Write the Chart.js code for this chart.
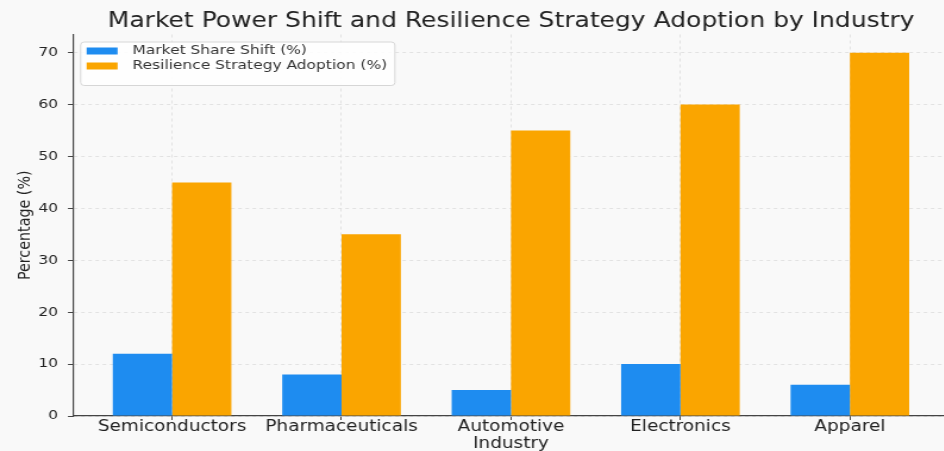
<!DOCTYPE html>
<html lang="en">
<head>
  <meta charset="UTF-8">
  <title>Market Power Shift and Resilience Strategy Adoption</title>
  <script src="https://cdn.jsdelivr.net/npm/chart.js"></script>
  <style>
    body {
      margin: 0;
      background-color: #f9f9f9;
      overflow: hidden;
    }

    /* the chart is drawn narrower and widened to the page */
    #shiftChart {
      display: block;
      transform: scaleX(1.19);
      transform-origin: 0 0;
    }
  </style>
</head>
<body>

<canvas id="shiftChart" width="859" height="451"></canvas>

<script>
  // Industries and the two measured series
  const industries = ['Semiconductors', 'Pharmaceuticals', 'Automotive Industry', 'Electronics', 'Apparel'];
  const marketShareShift = [12, 8, 5, 10, 6];
  const resilienceAdoption = [45, 35, 55, 60, 70];
  const yTicks = [0, 10, 20, 30, 40, 50, 60, 70];

  const FONT = "'DejaVu Sans', sans-serif";
  const TEXT_COLOR = '#222222';
  const AXIS_COLOR = '#444444';
  const GRID_COLOR = '#dcdcdc';

  // Legend box drawn in the upper left of the plot area, with a light frame
  const frameLegend = {
    id: 'frameLegend',
    afterDraw(chart) {
      const ctx = chart.ctx;
      const area = chart.chartArea;
      const sets = chart.data.datasets;
      const x = area.left + 6.5;
      const y = area.top + 7.5;
      const rowH = 15;
      const swW = 26, swH = 7;

      ctx.save();
      ctx.font = '13px ' + FONT;
      let textW = 0;
      sets.forEach(ds => { textW = Math.max(textW, ctx.measureText(ds.label).width); });
      const w = 5 + swW + 12.5 + textW + 6.5;
      const h = 7.5 + rowH * sets.length + 6;

      ctx.fillStyle = 'rgba(255,255,255,0.85)';
      ctx.strokeStyle = '#d6d6d6';
      ctx.lineWidth = 1;
      ctx.beginPath();
      ctx.roundRect(x, y, w, h, 3);
      ctx.fill();
      ctx.stroke();

      ctx.textBaseline = 'middle';
      sets.forEach((ds, i) => {
        const cy = y + 9 + rowH * i;
        ctx.fillStyle = ds.backgroundColor;
        ctx.fillRect(x + 5, cy - swH / 2, swW, swH);
        ctx.fillStyle = '#333333';
        ctx.fillText(ds.label, x + 5 + swW + 12.5, cy);
      });
      ctx.restore();
    }
  };

  const ctx = document.getElementById('shiftChart').getContext('2d');
  new Chart(ctx, {
    type: 'bar',
    data: {
      datasets: [{
        label: 'Market Share Shift (%)',
        data: marketShareShift.map((v, i) => ({ x: i, y: v })),
        backgroundColor: '#1e8cf0',
        borderWidth: 0
      }, {
        label: 'Resilience Strategy Adoption (%)',
        data: resilienceAdoption.map((v, i) => ({ x: i, y: v })),
        backgroundColor: '#faa500',
        borderWidth: 0
      }]
    },
    options: {
      responsive: false,
      animation: false,
      layout: { padding: 0 },
      datasets: {
        bar: {
          categoryPercentage: 0.7,
          barPercentage: 1.0
        }
      },
      plugins: {
        legend: { display: false },
        tooltip: { enabled: false },
        title: {
          display: true,
          text: 'Market Power Shift and Resilience Strategy Adoption by Industry',
          color: TEXT_COLOR,
          font: { family: FONT, size: 21, weight: 'normal' },
          padding: { top: 9, bottom: 0.3 }
        }
      },
      scales: {
        x: {
          type: 'linear',
          offset: false,
          min: -0.585,
          max: 5.017,
          afterBuildTicks: scale => {
            scale.ticks = industries.map((_, i) => ({ value: i }));
          },
          afterFit: scale => { scale.height = 35; },
          ticks: {
            autoSkip: false,
            maxRotation: 0,
            padding: -2,
            color: TEXT_COLOR,
            font: { family: FONT, size: 15.5, lineHeight: 1.1 },
            callback: value => {
              const name = industries[value];
              return name.includes(' ') ? name.split(' ') : name;
            }
          },
          grid: {
            offset: false,
            color: GRID_COLOR,
            lineWidth: 0.8,
            tickLength: 4,
            tickColor: AXIS_COLOR,
            tickWidth: 1
          },
          border: { display: true, color: AXIS_COLOR, width: 1.2, dash: [3, 3] }
        },
        y: {
          min: 0,
          max: 73.5,
          afterBuildTicks: scale => {
            scale.ticks = yTicks.map(v => ({ value: v }));
          },
          afterFit: scale => { scale.width = 61.3; },
          ticks: {
            padding: 8.4,
            color: TEXT_COLOR,
            font: { family: FONT, size: 13 }
          },
          grid: {
            color: GRID_COLOR,
            lineWidth: 0.8,
            tickLength: 4.2,
            tickColor: AXIS_COLOR,
            tickWidth: 1
          },
          border: { display: true, color: AXIS_COLOR, width: 1.2, dash: [3, 3] },
          title: {
            display: true,
            text: 'Percentage (%)',
            color: TEXT_COLOR,
            font: { family: FONT, size: 14.3 },
            padding: { top: 12.4, bottom: 0 }
          }
        }
      }
    },
    plugins: [frameLegend]
  });
</script>

</body>
</html>
